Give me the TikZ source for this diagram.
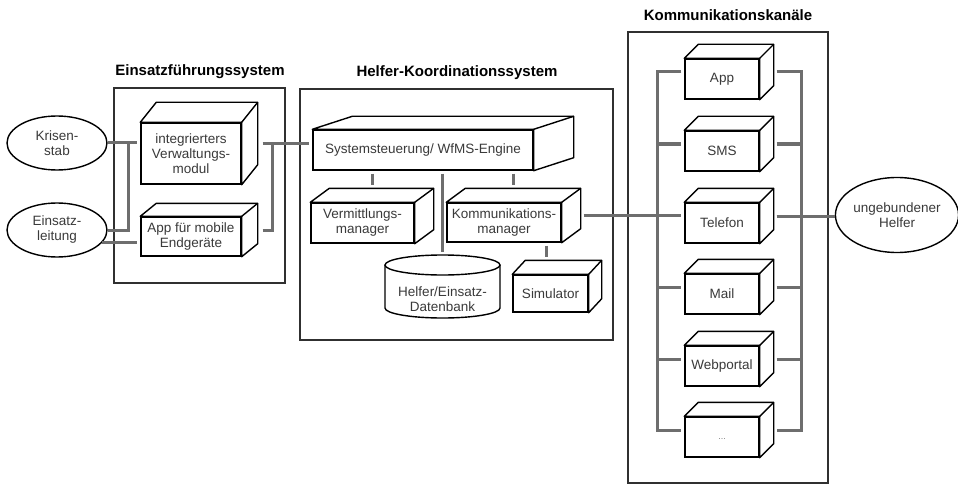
\documentclass[tikz,border=0pt]{standalone}
\usepackage{fontspec}
\setmainfont{Liberation Sans}
\usetikzlibrary{shapes.geometric,calc}

\definecolor{linegray}{HTML}{6E6E6E}
\definecolor{textgray}{HTML}{3A3A3A}
\definecolor{framegray}{HTML}{303030}

\newcommand\bodyfont{\fontsize{13.5}{15}\selectfont}
\newcommand\titlefont{\fontsize{15}{18}\selectfont\bfseries}

\tikzset{
  frame/.style={draw=framegray, line width=1.3pt},
  cube/.style={draw=black, line width=1.4pt, fill=white, align=center,
    inner sep=0pt, text=textgray, font=\bodyfont},
  actor/.style={ellipse, draw=black, line width=1.4pt, fill=white, align=center,
    inner sep=0pt, text=textgray, font=\bodyfont},
  conn/.style={draw=linegray, line width=3pt},
  gap/.style={shorten <=3pt, shorten >=3pt},
  grouptitle/.style={font=\titlefont, text=black},
}

% top and right faces of a box whose front face is node #1;
% #2 = depth to the right, #3 = depth upwards
\newcommand\cubefaces[3]{%
  \draw[line width=1.4pt, line join=round, fill=white]
    (#1.north west) -- ++(#2,-#3) -- ([shift={(#2,-#3)}]#1.north east)
    -- ([shift={(#2,-#3)}]#1.south east) -- (#1.south east)
    -- (#1.north east) -- cycle;
  \draw[line width=1.4pt] (#1.north east) -- ++(#2,-#3);
  \coordinate (#1-left)  at ([shift={(0,-#3/2)}]#1.west);
  \coordinate (#1-right) at ([shift={(#2,-#3/2)}]#1.east);
  \coordinate (#1-top)   at ([shift={(#2/2,-#3)}]#1.north);
}

\begin{document}
\begin{tikzpicture}[x=1pt, y=-1pt]
\useasboundingbox (0,0) rectangle (958,484);

% group frames and their titles
\node[frame, minimum width=171pt, minimum height=195pt] (efs) at (199.5,185.5) {};
\node[grouptitle] (efs-title) at (200,72) {Einsatzführungssystem};
\node[frame, minimum width=313pt, minimum height=251pt] (hks) at (456.5,214.5) {};
\node[grouptitle] (hks-title) at (457,73) {Helfer-Koordinationssystem};
\node[frame, minimum width=200pt, minimum height=451pt] (kk) at (728,257.5) {};
\node[grouptitle] (kk-title) at (728,15) {Kommunikationskanäle};

% actors
\node[actor, minimum width=100pt, minimum height=54pt] (kris) at (57,143) {Krisen-\\stab};
\node[actor, minimum width=100pt, minimum height=54pt] (einl) at (57,230) {Einsatz-\\leitung};
\node[actor, minimum width=120pt, minimum height=75pt] (ungeb) at (897,215) {ungebundener\\Helfer};

% Einsatzfuehrungssystem
\node[cube, minimum width=100pt, minimum height=61pt] (verw) at (191,153.5) {integrierters\\Verwaltungs-\\modul};
\cubefaces{verw}{16}{20}
\node[cube, minimum width=100pt, minimum height=39pt] (appm) at (191,236.5) {App für mobile\\Endgeräte};
\cubefaces{appm}{16}{13}

% Helfer-Koordinationssystem
\node[cube, minimum width=220pt, minimum height=40pt] (sys) at (423,150) {Systemsteuerung/ WfMS-Engine};
\cubefaces{sys}{40}{13}
\node[cube, minimum width=103pt, minimum height=40pt] (verm) at (362.5,223) {Vermittlungs-\\manager};
\cubefaces{verm}{19}{14}
\node[cube, minimum width=114pt, minimum height=39pt] (komm) at (504,222.5) {Kommunikations-\\manager};
\cubefaces{komm}{19}{14}
\node[cube, minimum width=75pt, minimum height=37pt] (sim) at (550.5,293.5) {Simulator};
\cubefaces{sim}{13}{14}

% database cylinder
\draw[line width=1.4pt] (385,265) -- (385,308)
  arc[start angle=180, end angle=360, x radius=57.5pt, y radius=10pt] -- (500,265);
\draw[line width=1.4pt] (442.5,265) ellipse [x radius=57.5pt, y radius=10pt];
\node[font=\bodyfont, text=textgray, align=center] (db) at (442.5,299) {Helfer/Einsatz-\\Datenbank};
\coordinate (db-top) at (442.5,255);

% communication channels
\foreach \n/\y/\t in {app/79/App, sms/151/SMS, tel/223/Telefon, mail/294/Mail, web/366/Webportal} {
  \node[cube, minimum width=74pt, minimum height=40pt] (\n) at (722,\y) {\t};
  \cubefaces{\n}{14}{14}
}
\node[cube, minimum width=74pt, minimum height=40pt] (more) at (722,437)
  {\raisebox{-4pt}{\textcolor{gray}{\fontsize{9}{10}\selectfont ...}}};
\cubefaces{more}{14}{14}

% connectors
\coordinate (jl) at (128,0);
\coordinate (jr) at (272,0);
\coordinate (busL) at (657,0);
\coordinate (busR) at (801,0);
\coordinate (simc) at ([xshift=-4.5]sim.north);

\draw[conn, shorten >=3pt] (kris.east) -- (kris.east -| verw-left);
\draw[conn] (einl.east) -| (jl |- verw-left);
\draw[conn, shorten >=3pt] (einl.-16) -- (einl.-16 -| appm.west);
\draw[conn, shorten <=5pt, shorten >=3pt] (verw-right) -- (verw-right -| sys-left);
\draw[conn, shorten <=5pt] (appm-right) -| (jr |- verw-right);

\draw[conn, gap] (verm-top |- sys.south) -- (verm-top);
\draw[conn, gap] (db-top |- sys.south) -- (db-top);
\draw[conn, gap] (komm-top |- sys.south) -- (komm-top);
\draw[conn, gap] (simc |- komm.south) -- (simc |- sim-top);
\draw[conn, gap] (komm-right) -- (komm-right -| tel.west);

\draw[conn, gap] (app-left) -- (busL |- app-left) -- (busL |- more-left) -- (more-left);
\draw[conn, gap] (app-right) -- (busR |- app-right) -- (busR |- more-right) -- (more-right);
\foreach \n in {sms,mail,web} {
  \draw[conn, shorten >=3pt] (busL |- \n-left) -- (\n-left);
}
\foreach \n in {sms,tel,mail,web} {
  \draw[conn, shorten <=3pt] (\n-right) -- (busR |- \n-right);
}
\draw[conn, shorten <=3pt] (tel-right) -- (tel-right -| ungeb.west);
\end{tikzpicture}
\end{document}
